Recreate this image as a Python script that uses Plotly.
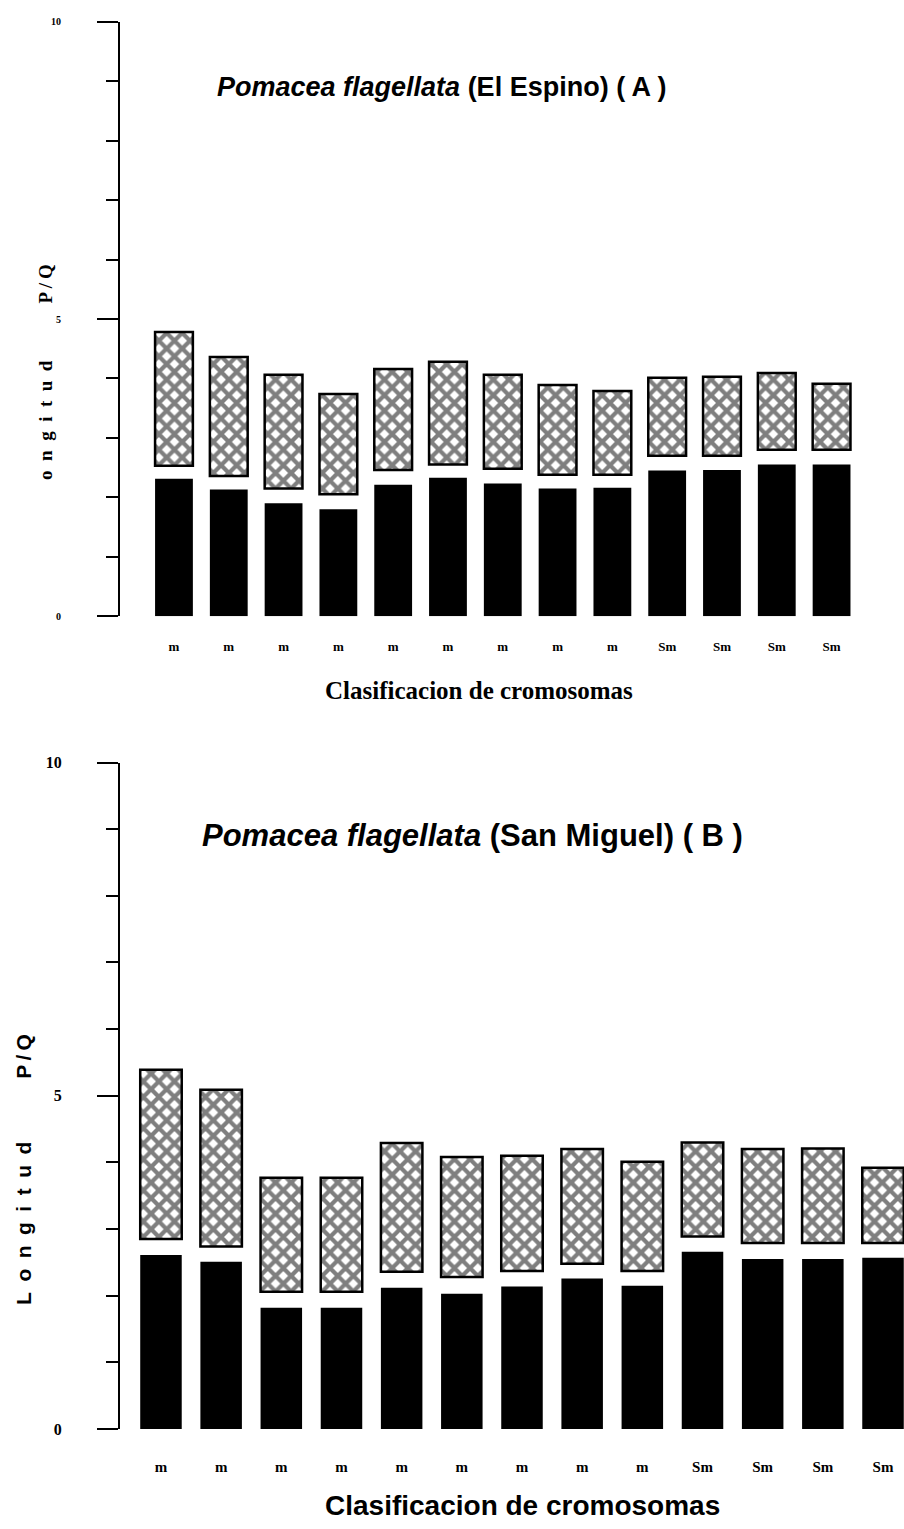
import plotly.graph_objects as go

# Clasificación de cada cromosoma (13 pares)
clasificacion = ["m", "m", "m", "m", "m", "m", "m", "m", "m", "Sm", "Sm", "Sm", "Sm"]
posicion = list(range(1, 14))

# (A) Pomacea flagellata - El Espino
brazo_q_A = [2.31, 2.13, 1.90, 1.80, 2.21, 2.33, 2.23, 2.15, 2.16, 2.45, 2.46, 2.55, 2.55]
inicio_p_A = [2.53, 2.36, 2.15, 2.05, 2.46, 2.55, 2.48, 2.38, 2.38, 2.70, 2.70, 2.80, 2.80]
fin_p_A = [4.78, 4.36, 4.06, 3.74, 4.16, 4.28, 4.06, 3.89, 3.79, 4.01, 4.03, 4.09, 3.91]

# (B) Pomacea flagellata - San Miguel
brazo_q_B = [2.61, 2.51, 1.82, 1.82, 2.12, 2.03, 2.14, 2.26, 2.15, 2.66, 2.55, 2.55, 2.57]
inicio_p_B = [2.85, 2.74, 2.06, 2.06, 2.36, 2.28, 2.37, 2.48, 2.37, 2.89, 2.79, 2.79, 2.79]
fin_p_B = [5.39, 5.09, 3.77, 3.77, 4.29, 4.08, 4.10, 4.20, 4.01, 4.30, 4.20, 4.21, 3.92]

W, H = 904, 1529
SERIF = "Liberation Serif, Times New Roman, serif"
SANS = "Liberation Sans, Arial, sans-serif"

hatch = dict(shape="x", fgcolor="black", bgcolor="white", size=11, solidity=0.62,
             fillmode="overlay")

fig = go.Figure()


def add_panel(q, p0, p1, xa, ya, width):
    fig.add_trace(go.Bar(
        x=posicion, y=q, width=width, xaxis=xa, yaxis=ya,
        marker=dict(color="black", line=dict(width=0)), showlegend=False,
    ))
    fig.add_trace(go.Bar(
        x=posicion, y=[b - a for a, b in zip(p0, p1)], base=p0, width=width,
        xaxis=xa, yaxis=ya,
        marker=dict(color="white", pattern=hatch, line=dict(color="black", width=2.5)),
        showlegend=False,
    ))


add_panel(brazo_q_A, inicio_p_A, fin_p_A, "x", "y", 0.69)
add_panel(brazo_q_B, inicio_p_B, fin_p_B, "x2", "y2", 0.69)


def px_x(v):
    return v / W


def px_y(v):
    return 1 - v / H


x_dom = [px_x(120), 1.0]

common_y = dict(
    range=[0, 10], showgrid=False, zeroline=False, showline=True,
    linecolor="black", linewidth=2, ticks="outside", ticklen=21, tickwidth=2,
    tickcolor="black", tickvals=[0, 5, 10], ticktext=["0", "5", "10"],
    minor=dict(dtick=1, ticks="outside", ticklen=12, tickwidth=2, tickcolor="black"),
)
common_x = dict(
    showgrid=False, zeroline=False, showline=False, ticks="",
    tickvals=posicion, ticktext=clasificacion, domain=x_dom,
)

fig.update_layout(
    width=W, height=H, margin=dict(l=0, r=0, t=0, b=0),
    paper_bgcolor="white", plot_bgcolor="white", barmode="overlay",
    xaxis=dict(**common_x, range=[0.015, 0.015 + 784 / 54.8], anchor="y",
               tickfont=dict(family=SERIF, size=13, color="black", weight="bold"),
               ticklabelstandoff=21),
    yaxis=dict(**common_y, domain=[px_y(615), px_y(14)], anchor="x",
               tickfont=dict(family=SERIF, size=10, color="black", weight="bold"),
               ticklabelstandoff=34),
    xaxis2=dict(**common_x, range=[0.319, 0.319 + 784 / 60.17], anchor="y2",
                tickfont=dict(family=SERIF, size=15, color="black", weight="bold"),
                ticklabelstandoff=27),
    yaxis2=dict(**common_y, domain=[px_y(1437), px_y(763)], anchor="x2",
                tickfont=dict(family=SERIF, size=16, color="black", weight="bold"),
                ticklabelstandoff=32),
)

ann = [
    dict(text="<b><i>Pomacea flagellata</i> (El Espino) ( A )</b>",
         x=px_x(441.5), y=px_y(80), font=dict(family=SANS, size=27)),
    dict(text="<b><i>Pomacea flagellata</i> (San Miguel) ( B )</b>",
         x=px_x(472.5), y=px_y(837), font=dict(family=SANS, size=31)),
    dict(text="<b>Clasificacion de cromosomas</b>",
         x=px_x(478.5), y=px_y(690), font=dict(family=SERIF, size=25)),
    dict(text="<b>Clasificacion de cromosomas</b>",
         x=px_x(522.5), y=px_y(1514), font=dict(family=SANS, size=28)),
    dict(text="<b>o\u2002n\u2002g\u2002i\u2002t\u2002u\u2002d\u2003\u2003\u2003P\u2009/\u2009Q</b>",
         x=px_x(46), y=px_y(368), textangle=-90, font=dict(family=SERIF, size=19)),
    dict(text="<b>L\u2002o\u2002n\u2002g\u2002i\u2002t\u2002u\u2002d\u2003\u2003\u2003P\u2009/\u2009Q</b>",
         x=px_x(24), y=px_y(1175), textangle=-90, font=dict(family=SANS, size=21)),
]
for a in ann:
    a.setdefault("font", {})
    a["font"]["color"] = "black"
    fig.add_annotation(xref="paper", yref="paper", showarrow=False,
                       xanchor="center", yanchor="middle", **a)

fig.write_html("out.html")
